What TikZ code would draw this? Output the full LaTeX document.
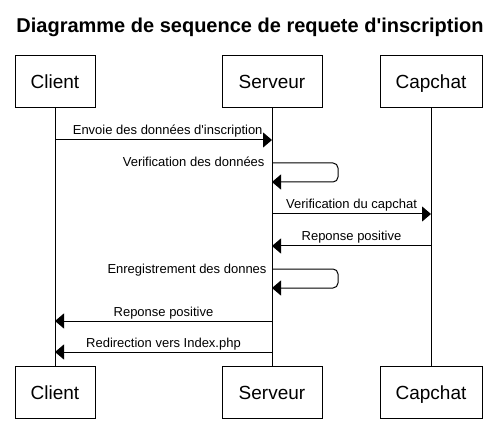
\documentclass[tikz,border=0pt]{standalone}
\usepackage{fontspec}
\setmainfont{Liberation Sans}
\usetikzlibrary{arrows.meta, positioning}

\begin{document}
\begin{tikzpicture}[x=1pt, y=-1pt, node distance=10pt, line width=1pt,
    actor/.style={draw, outer sep=0pt, minimum height=52pt, text height=14pt, text depth=0pt,
        font=\fontsize{19}{19}\selectfont},
    msg/.style={-{Triangle[length=9pt, width=15pt]}},
    lbl/.style={inner sep=0pt, font=\fontsize{13}{13}\selectfont}]
    \useasboundingbox (0,0) rectangle (497,443);

    \node[anchor=base, font=\bfseries\fontsize{20}{20}\selectfont] (Title) at (250,33)
        {Diagramme de sequence de requete d\textquotesingle inscription};

    \node[actor, minimum width=80pt]                          (Client 1)  at (55,82) {Client};
    \node[actor, minimum width=100pt, right=127pt of Client 1] (Serveur 1) {Serveur};
    \node[actor, minimum width=102pt, right=58pt of Serveur 1] (Capchat 1) {Capchat};
    \node[actor, minimum width=80pt, below=258pt of Client 1]   (Client 2)  {Client};
    \node[actor, minimum width=100pt, below=258pt of Serveur 1] (Serveur 2) {Serveur};
    \node[actor, minimum width=102pt, below=258pt of Capchat 1] (Capchat 2) {Capchat};

    % lifelines
    \draw (Client 1) -- (Client 2);
    \draw (Serveur 1) -- (Serveur 2);
    \draw (Capchat 1) -- (Capchat 2);

    % messages
    \draw[msg] (Client 1 |- 0,140) -- (Serveur 1 |- 0,140)
        node[lbl, at end, anchor=base east, xshift=-9pt, yshift=5pt] {Envoie des données d\textquotesingle inscription};
    \draw[msg, rounded corners=5pt] (Serveur 1 |- 0,163)
        node[lbl, anchor=base east, xshift=-7pt, yshift=-4pt] {Verification des données}
        -- ++(66,0) -- ++(0,19) -- (Serveur 1 |- 0,182);
    \draw[msg] (Serveur 1 |- 0,214) -- (Capchat 1 |- 0,214)
        node[lbl, midway, anchor=base, yshift=5pt] {Verification du capchat};
    \draw[msg] (Capchat 1 |- 0,246) -- (Serveur 1 |- 0,246)
        node[lbl, midway, anchor=base, yshift=5pt] {Reponse positive};
    \draw[msg, rounded corners=5pt] (Serveur 1 |- 0,269)
        node[lbl, anchor=base east, xshift=-5pt, yshift=-4pt] {Enregistrement des donnes}
        -- ++(66,0) -- ++(0,19) -- (Serveur 1 |- 0,288);
    \draw[msg] (Serveur 1 |- 0,321) -- (Client 1 |- 0,321)
        node[lbl, midway, anchor=base, yshift=5pt] {Reponse positive};
    \draw[msg] (Serveur 1 |- 0,352) -- (Client 1 |- 0,352)
        node[lbl, midway, anchor=base, yshift=5pt] {Redirection vers Index.php};
\end{tikzpicture}
\end{document}
